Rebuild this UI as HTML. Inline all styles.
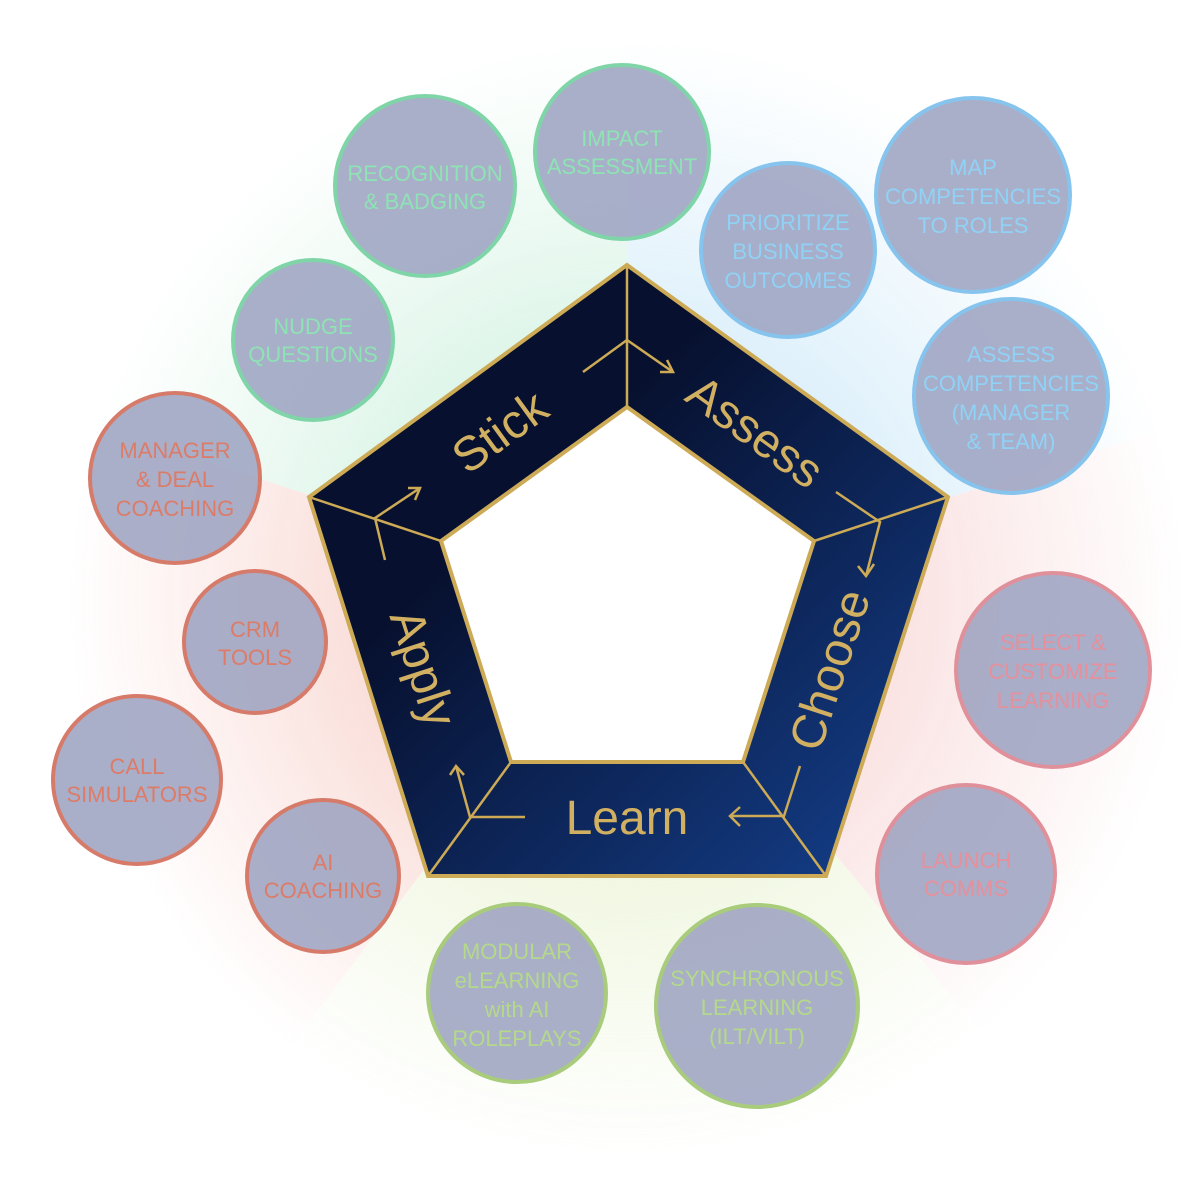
<!DOCTYPE html>
<html><head><meta charset="utf-8"><style>
html,body{margin:0;padding:0;background:#fff;width:1200px;height:1181px;overflow:hidden;}
svg{display:block;}
text{font-family:"Liberation Sans",sans-serif;}
</style></head><body>
<svg width="1200" height="1181" viewBox="0 0 1200 1181" xmlns="http://www.w3.org/2000/svg">
<defs>
<radialGradient id="fade" cx="627" cy="600" r="560" gradientUnits="userSpaceOnUse">
<stop offset="0.3" stop-color="#fff" stop-opacity="1"/>
<stop offset="0.75" stop-color="#fff" stop-opacity="0.35"/>
<stop offset="1" stop-color="#fff" stop-opacity="0"/>
</radialGradient>
<mask id="m"><rect width="1200" height="1181" fill="url(#fade)"/></mask>
<linearGradient id="pg" x1="0" y1="0" x2="1" y2="1">
<stop offset="0.35" stop-color="#07102e"/>
<stop offset="1" stop-color="#15418f"/>
</linearGradient>
</defs>
<g mask="url(#m)" opacity="0.45">
<polygon points="627,600 627,-100 -200,200 -100,360" fill="#9fe3bf"/>
<polygon points="627,600 627,-100 1300,-100 1350,370" fill="#9dd3f3"/>
<polygon points="627,600 1350,370 1200,1300" fill="#f1a9a9"/>
<polygon points="627,600 1200,1300 100,1300" fill="#d3e7a6"/>
<polygon points="627,600 100,1300 -100,360" fill="#f0a093"/>
</g>
<polygon points="627,407 441,541 511,762 743,762 814,541" fill="#fff"/>
<path d="M627,265 L948,497 L826,876 L428,876 L309,497 Z M627,407 L441,541 L511,762 L743,762 L814,541 Z" fill="url(#pg)" fill-rule="evenodd" stroke="#cdaa55" stroke-width="4"/>
<g stroke="#cdaa55" stroke-width="2.5" fill="none">
<line x1="627" y1="265" x2="627" y2="407"/>
<line x1="948" y1="497" x2="814" y2="541"/>
<line x1="826" y1="876" x2="743" y2="762"/>
<line x1="428" y1="876" x2="511" y2="762"/>
<line x1="309" y1="497" x2="441" y2="541"/>
<polyline points="583,372 627,340 673,372"/><polyline points="660,372 673,372 667,360"/>
<polyline points="836,492 880,522 866,576"/><polyline points="858,566 866,576 874,564"/>
<polyline points="800,766 784,816 730,816"/><polyline points="740,807 730,816 740,826"/>
<polyline points="525,817 470,817 456,766"/><polyline points="450,775 456,766 464,775"/>
<polyline points="385,560 375,518 420,488"/><polyline points="408,488 420,488 415,500"/>
</g>
<g fill="#d2b062" font-size="48" font-weight="300" text-anchor="middle">
<text transform="translate(500,432) rotate(-36)" dy="16">Stick</text>
<text transform="translate(755,432) rotate(36)" dy="16">Assess</text>
<text transform="translate(830,670) rotate(-72)" dy="16">Choose</text>
<text x="627" y="834">Learn</text>
<text transform="translate(423,668) rotate(72)" dy="16">Apply</text>
</g>
<g stroke-width="4" fill="#9ba1bf" fill-opacity="0.85" font-size="22" text-anchor="middle">
<g stroke="#7fd5a8"><circle cx="425" cy="186" r="90"/><circle cx="622" cy="152" r="87"/><circle cx="313" cy="340" r="80"/></g>
<g stroke="#86c4ee"><circle cx="788" cy="250" r="87"/><circle cx="973" cy="195" r="97"/><circle cx="1011" cy="396" r="97"/></g>
<g stroke="#d67b6a"><circle cx="175" cy="478" r="85"/><circle cx="255" cy="642" r="71"/><circle cx="137" cy="780" r="84"/><circle cx="323" cy="876" r="76"/></g>
<g stroke="#e0909a"><circle cx="1053" cy="670" r="97"/><circle cx="966" cy="874" r="89"/></g>
<g stroke="#a8cc7c"><circle cx="517" cy="993" r="89"/><circle cx="757" cy="1006" r="101"/></g>
</g>
<g font-size="22" text-anchor="middle">
<g fill="#8ee3b4">
<text x="425" y="181">RECOGNITION</text><text x="425" y="209">&amp; BADGING</text>
<text x="622" y="146">IMPACT</text><text x="622" y="174">ASSESSMENT</text>
<text x="313" y="334">NUDGE</text><text x="313" y="362">QUESTIONS</text>
</g>
<g fill="#8fd2f6">
<text x="788" y="230">PRIORITIZE</text><text x="788" y="259">BUSINESS</text><text x="788" y="288">OUTCOMES</text>
<text x="973" y="175">MAP</text><text x="973" y="204">COMPETENCIES</text><text x="973" y="233">TO ROLES</text>
<text x="1011" y="362">ASSESS</text><text x="1011" y="391">COMPETENCIES</text><text x="1011" y="420">(MANAGER</text><text x="1011" y="449">&amp; TEAM)</text>
</g>
<g fill="#dc7c68">
<text x="175" y="458">MANAGER</text><text x="175" y="487">&amp; DEAL</text><text x="175" y="516">COACHING</text>
<text x="255" y="637">CRM</text><text x="255" y="665">TOOLS</text>
<text x="137" y="774">CALL</text><text x="137" y="802">SIMULATORS</text>
<text x="323" y="870">AI</text><text x="323" y="898">COACHING</text>
</g>
<g fill="#e6909c">
<text x="1053" y="650">SELECT &amp;</text><text x="1053" y="679">CUSTOMIZE</text><text x="1053" y="708">LEARNING</text>
<text x="966" y="868">LAUNCH</text><text x="966" y="896">COMMS</text>
</g>
<g fill="#b4d98a">
<text x="517" y="959">MODULAR</text><text x="517" y="988">eLEARNING</text><text x="517" y="1017">with AI</text><text x="517" y="1046">ROLEPLAYS</text>
<text x="757" y="986">SYNCHRONOUS</text><text x="757" y="1015">LEARNING</text><text x="757" y="1044">(ILT/VILT)</text>
</g>
</g>
</svg>
</body></html>
